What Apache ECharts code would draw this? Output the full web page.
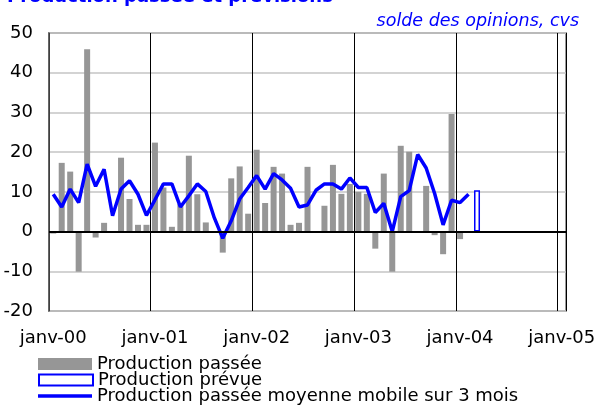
<!DOCTYPE html>
<html>
<head>
<meta charset="utf-8">
<script src="https://cdn.jsdelivr.net/npm/echarts@6/dist/echarts.min.js"></script>
<style>
  html, body { margin: 0; padding: 0; background: #fff; }
  #line-chart { width: 599px; height: 406px; }
</style>
</head>
<body>
<div id="line-chart"></div>
<script>
// mois de janv-00 à janv-05
const moisNoms = ["janv", "févr", "mars", "avr", "mai", "juin", "juil", "août", "sept", "oct", "nov", "déc"];
const annees = ["00", "01", "02", "03", "04", "05"];

// production passée (août = pas d'enquête)
const productionPassee = [
  -0.5, 17.3, 15.1, -10.1, 45.9, -1.5, 2.2, null, 18.6, 8.2, 1.7, 1.7,
  22.4, 11.1, 1.2, 6.9, 19.1, 9.4, 2.3, null, -5.3, 13.4, 16.4, 4.5,
  20.6, 7.2, 16.3, 14.6, 1.7, 2.2, 16.3, null, 6.5, 16.8, 9.5, 12,
  10, 9.5, -4.3, 14.6, -10.1, 21.6, 20.1, null, 11.5, -0.9, -5.7, 29.6,
  -1.9, -0.3
];
// production prévue (mars 2004)
const productionPrevue = [
  null, null, null, null, null, null, null, null, null, null, null, null,
  null, null, null, null, null, null, null, null, null, null, null, null,
  null, null, null, null, null, null, null, null, null, null, null, null,
  null, null, null, null, null, null, null, null, null, null, null, null,
  null, null, 10.4
];
// moyenne mobile sur 3 mois
const moyenneMobile = [
  9.4, 6.2, 10.7, 7.3, 17, 11.4, 15.7, 4, 10.7, 12.8, 9.4, 4.1,
  8, 12, 12, 6.2, 9, 12, 10.1, 3.5, -1.7, 2.7, 8.2, 11.1,
  14.1, 10.7, 14.6, 13, 10.9, 6.2, 6.7, 10.4, 12, 12, 10.7, 13.5,
  11.1, 11.1, 4.8, 7.1, 0, 8.8, 10.3, 19.4, 16, 9.6, 1.7, 7.9,
  7.3, 9.4
];

const categories = [];
annees.forEach((a, i) => {
  moisNoms.forEach((m, j) => {
    if (i < annees.length - 1 || j === 0) categories.push(m + "-" + a);
  });
});

const police = "DejaVu Sans";
const bleu = "#0000ff";
const nomPassee = "Production passée";
const nomPrevue = "Production prévue";
const nomMoyenne = "Production passée moyenne mobile sur 3 mois";

// une légende par ligne, empilées
function legende(nom, top, hauteur) {
  return {
    orient: "vertical",
    left: 38,
    top: top,
    padding: 0,
    selectedMode: false,
    itemWidth: 54,
    itemHeight: hauteur,
    itemTextGap: 6,
    textStyle: { fontSize: 18, lineHeight: 16, color: "#000", fontFamily: police },
    data: [{ name: nom, icon: "rect" }],
  };
}

let chartDom = document.getElementById("line-chart");
let chart = echarts.init(chartDom, null, { renderer: "canvas" });
let option = {
  animation: false,
  backgroundColor: "#fff",
  textStyle: { fontFamily: police },
  title: [
    {
      text: "Production passée et prévisions",
      left: 7,
      top: -12,
      padding: 0,
      textStyle: { color: bleu, fontSize: 18, fontWeight: "bold", fontFamily: police },
    },
    {
      text: "solde des opinions, cvs",
      right: 20,
      top: 12,
      padding: 0,
      textStyle: { color: bleu, fontSize: 17.5, fontStyle: "italic", fontWeight: "normal", fontFamily: police },
    },
  ],
  legend: [
    legende(nomPassee, 355, 12),
    legende(nomPrevue, 371, 11),
    legende(nomMoyenne, 387, 3.5),
  ],
  grid: {
    left: 49,
    right: 33,
    top: 33,
    bottom: 95,
    show: true,
    borderColor: "#9a9a9a",
    borderWidth: 2,
  },
  xAxis: {
    type: "category",
    data: categories,
    boundaryGap: true,
    axisLine: { show: false },
    axisTick: { show: false },
    axisLabel: { interval: 11, color: "#000", fontSize: 18, margin: 18, fontFamily: police },
    splitLine: { show: true, interval: 11, lineStyle: { color: "#000", width: 1 } },
  },
  yAxis: {
    type: "value",
    min: -20,
    max: 50,
    interval: 10,
    axisLine: { show: true, lineStyle: { color: "#555", width: 1.5 } },
    axisTick: { show: false },
    axisLabel: { color: "#000", fontSize: 18, margin: 16, fontFamily: police },
    splitLine: { lineStyle: { color: "#c4c4c4", width: 1.5 } },
  },
  series: [
    {
      name: nomPassee,
      type: "bar",
      data: productionPassee,
      barWidth: 6,
      barGap: "-100%",
      itemStyle: { color: "#969696" },
      z: 2,
      markLine: {
        silent: true,
        symbol: ["none", "none"],
        label: { show: false },
        lineStyle: { color: "#000", width: 2, type: "solid" },
        data: [{ yAxis: 0 }],
      },
    },
    {
      name: nomPrevue,
      type: "bar",
      data: productionPrevue,
      barWidth: 6,
      barGap: "-100%",
      itemStyle: { color: "#fff", borderColor: bleu, borderWidth: 1.5 },
      z: 3,
    },
    {
      name: nomMoyenne,
      type: "line",
      data: moyenneMobile,
      symbol: "none",
      showSymbol: false,
      lineStyle: { color: bleu, width: 3.5 },
      itemStyle: { color: bleu },
      z: 4,
    },
  ],
};

option && chart.setOption(option);
</script>
</body>
</html>
